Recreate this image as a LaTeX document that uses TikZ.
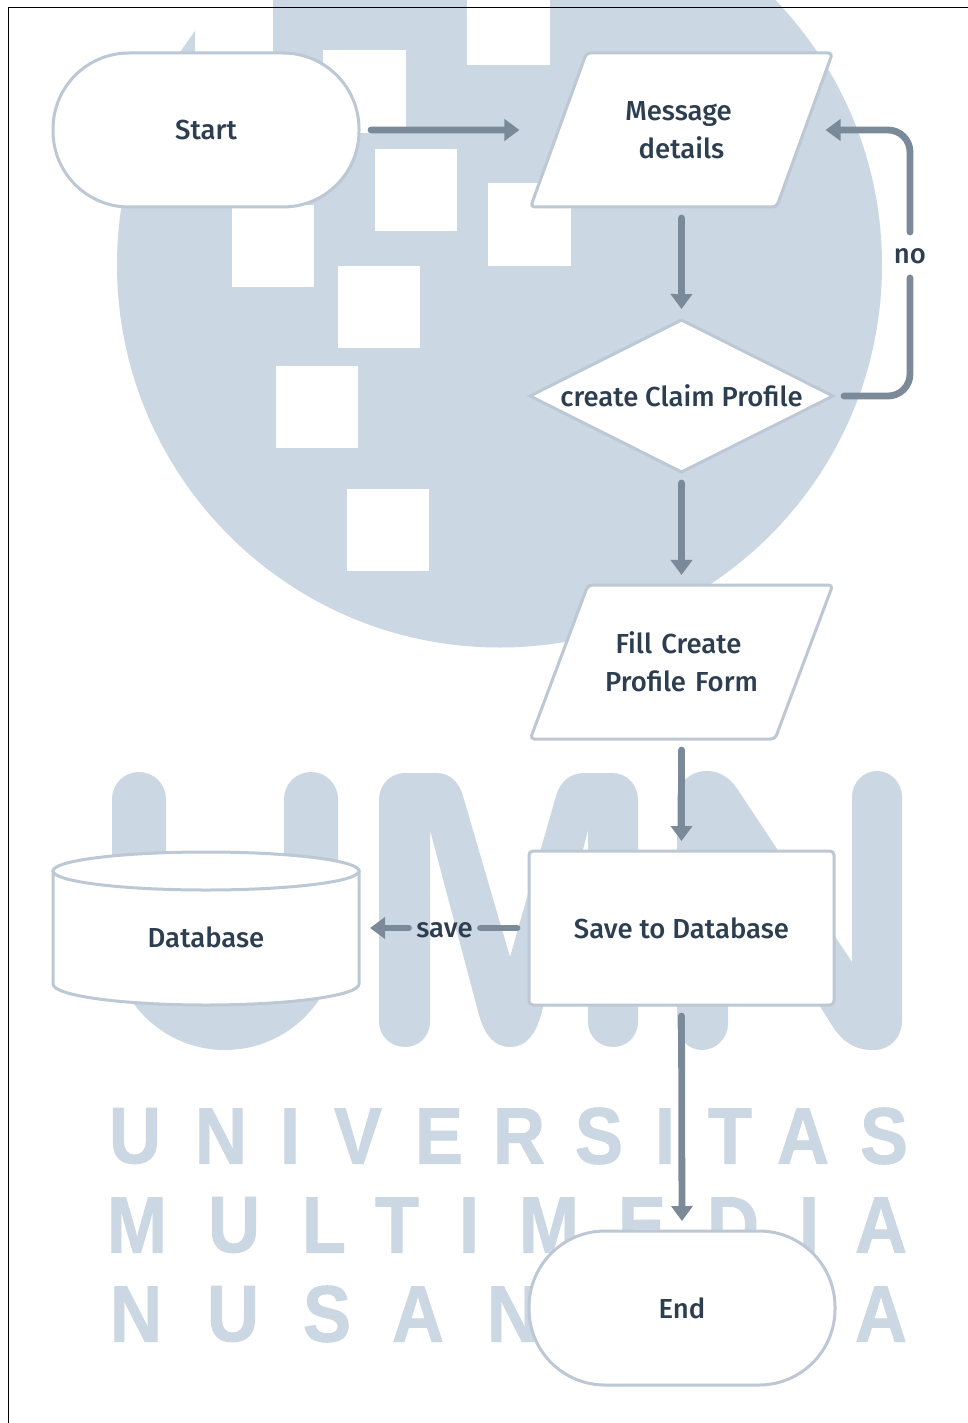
\documentclass[tikz,border=0pt]{standalone}
\usepackage{fontspec}
\usepackage{graphicx}
\usetikzlibrary{arrows.meta,shapes.geometric}
\setmainfont{Fira Sans Medium}
\newfontfamily\wmfont{Liberation Sans Bold}[FakeBold=1.2]
\definecolor{wm}{HTML}{CBD7E2}
\definecolor{edge}{HTML}{BCC8D4}
\definecolor{flowc}{HTML}{7B8A99}
\definecolor{ink}{HTML}{2C3E50}
\tikzset{
  txt/.style={text=ink,font=\fontsize{27.5}{38}\selectfont,align=center,inner sep=0pt,outer sep=0pt},
  box/.style={txt,draw=edge,line width=3pt,fill=white},
  pill/.style={box,rectangle,rounded corners=76pt,minimum width=306pt,minimum height=154pt},
  para/.style={box,trapezium,trapezium left angle=49,trapezium right angle=131,trapezium stretches=true,rounded corners=4pt,minimum width=303pt,minimum height=154pt,text width=170pt},
  flowline/.style={draw=flowc,line width=6.8pt,line cap=round},
  flow/.style={flowline,-{Triangle[length=15pt,width=21pt]}},
  wmletter/.style={text=wm,inner sep=0pt,outer sep=0pt,font=\wmfont\fontsize{80}{80}\selectfont},
}
\newcommand{\wl}[1]{\scalebox{.9}[1]{#1}}
\begin{document}
\begin{tikzpicture}[x=1pt,y=-1pt]
\useasboundingbox (0,0) rectangle (968,1423);
\fill[white] (0,0) rectangle (968,1423);
\begin{scope}
\clip (0,0) rectangle (968,1423);
% logo
\fill[wm] (499.5,265) circle [radius=382.5];
\fill[white] (100,-5) rectangle (273,60);
\fill[wm] (180,52) -- (195,31) -- (195,60) -- (180,60) -- cycle;
\fill[white] (323,50) rectangle (406,133);
\fill[white] (375,149) rectangle (457,231);
\fill[white] (232,205) rectangle (314,287);
\fill[white] (338,266) rectangle (420,348);
\fill[white] (276,366) rectangle (358,448);
\fill[white] (347,489) rectangle (429,571);
\fill[white] (467,-5) rectangle (550,65);
\fill[white] (488,183) rectangle (571,266);
% UMN
\draw[wm,line width=54pt,line cap=round] (139,799) -- (139,937) .. controls (139,984.5) and (177.5,1023) .. (225,1023) .. controls (272.5,1023) and (311,984.5) .. (311,937) -- (311,799);
\fill[wm] (379,1022) -- (379,800) .. controls (379,785) and (390,773) .. (405,773) -- (436,773) .. controls (450,773) and (459,782) .. (463,796) -- (510,957) -- (556,796) .. controls (560,782) and (570,773) .. (584,773) -- (612,773) .. controls (627,773) and (638,785) .. (638,800) -- (638,1022) .. controls (638,1036) and (627,1047) .. (613,1047) .. controls (599,1047) and (588,1036) .. (588,1022) -- (588,830) -- (541,1015) .. controls (535,1036) and (525,1047) .. (510,1047) .. controls (495,1047) and (485,1036) .. (479,1015) -- (430,830) -- (430,1022) .. controls (430,1036) and (419,1047) .. (405,1047) .. controls (391,1047) and (379,1036) .. (379,1022) -- cycle;
\fill[wm] (677,1024) -- (677,800) .. controls (677,783) and (690,771) .. (707,771) .. controls (720,771) and (730,778) .. (738,790) -- (852,962) -- (852,797) .. controls (852,783) and (863,771) .. (877,771) .. controls (891,771) and (902,783) .. (902,797) -- (902,1020) .. controls (902,1038) and (890,1050) .. (873,1050) .. controls (855,1050) and (843,1042) .. (833,1027) -- (728,860) -- (728,1024) .. controls (728,1038) and (716,1050) .. (702,1050) .. controls (688,1050) and (677,1038) .. (677,1024) -- cycle;
\foreach \x/\l [count=\i] in {135/U,221/N,290/I,358/V,439/E,519/R,599/S,665/I,730/T,803/A,884/S}
  \node[wmletter] (ua\i) at (\x,1136) {\wl{\l}};
\foreach \x/\l [count=\i] in {137/M,234/U,324/L,397/T,469/I,549/M,642/E,733/D,809/I,881/A}
  \node[wmletter] (ub\i) at (\x,1225) {\wl{\l}};
\foreach \x/\l [count=\i] in {136/N,233/U,327/S,418/A,513/N,881/A}
  \node[wmletter] (uc\i) at (\x,1314) {\wl{\l}};
\end{scope}
% frame
\draw[black,line width=1pt] (8,1423) -- (8,8) -- (968,8);
% nodes
\node[pill] (start) at (206,130) {\raisebox{-9.5pt}[0pt][0pt]{Start}};
\node[para] (msg) at (681.5,130) {Message\rule{6pt}{0pt}\\details};
\node[box,diamond,aspect=2,minimum width=303pt,minimum height=152pt] (dec) at (681.5,396) {create Claim Profile};
\node[para] (fill) at (681.5,662) {Fill Create\rule{6pt}{0pt}\\Profile Form};
\node[box,rectangle,rounded corners=4pt,minimum width=305pt,minimum height=154pt] (sv) at (681.5,928) {Save to Database};
\node[pill] (end) at (682,1308) {End};
% database
\draw[draw=edge,line width=3pt,fill=white] (53,871) -- (53,984) .. controls (53,995.6) and (121.5,1005) .. (206,1005) .. controls (290.5,1005) and (359,995.6) .. (359,984) -- (359,871) -- cycle;
\draw[draw=edge,line width=3pt,fill=white] (206,871) circle [x radius=153, y radius=19];
\node[inner sep=0pt,outer sep=0pt,minimum width=306pt,minimum height=154pt] (db) at (206,928) {};
\node[txt] (dbtext) at (206,937) {Database};
% labels
\node[txt,minimum height=46pt] (nolab) at (910,255) {\raisebox{-9pt}[0pt][0pt]{no}};
\node[txt,minimum width=72pt] (savelab) at (444.5,928) {\raisebox{-9pt}[0pt][0pt]{save}};
% connectors
\draw[flow,shorten <=12pt,shorten >=39pt] (start.east) -- (msg.west);
\draw[flow,shorten <=11pt,shorten >=11pt] (msg.south) -- (dec.north);
\draw[flow,shorten <=11pt,shorten >=10pt] (dec.south) -- (fill.north);
\draw[flow,shorten <=11pt,shorten >=10pt] (fill.south) -- (sv.north);
\draw[flow,shorten <=11pt,shorten >=10pt] (sv.south) -- (end.north);
\draw[flowline,rounded corners=22pt,shorten <=11pt] (dec.east) -| (nolab.south);
\draw[flow,rounded corners=22pt,shorten >=21pt] (nolab.north) |- (msg.east);
\draw[flowline,shorten <=12pt] (sv.west) -- (savelab.east);
\draw[flow,shorten >=11pt] (savelab.west) -- (db.east);
\end{tikzpicture}
\end{document}
